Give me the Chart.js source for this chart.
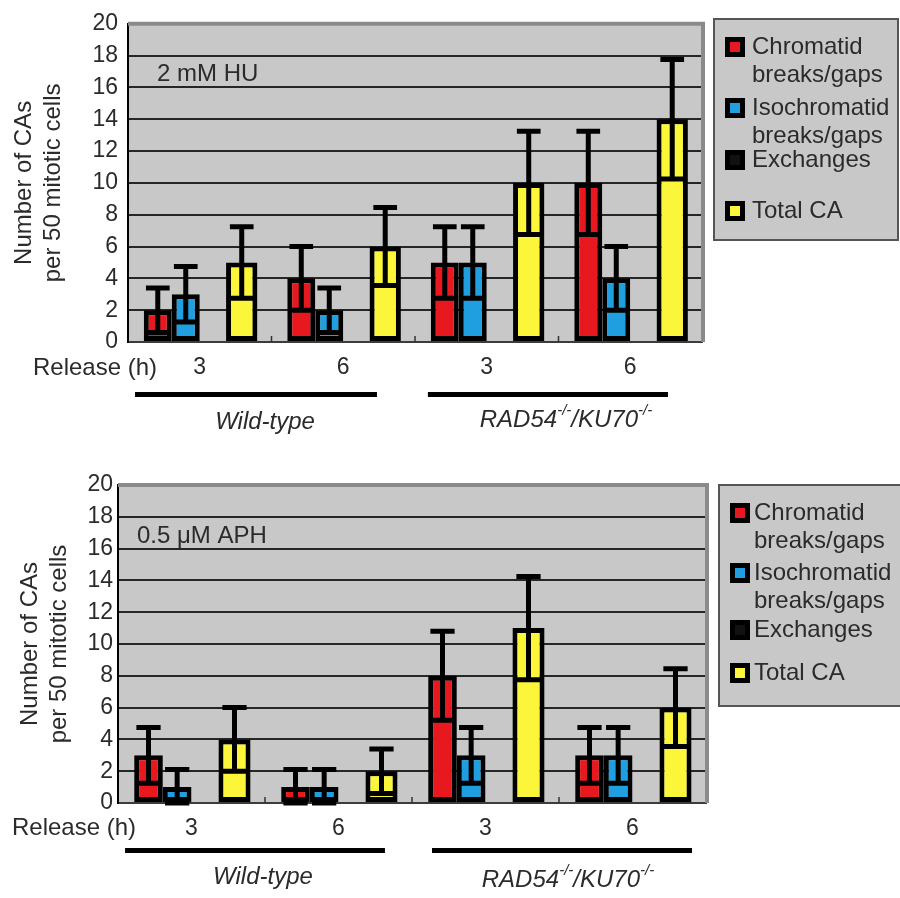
<!DOCTYPE html>
<html>
<head>
<meta charset="utf-8">
<title>Chromosomal aberrations after replication stress</title>
<script src="https://cdn.jsdelivr.net/npm/chart.js@4/dist/chart.umd.min.js"></script>
<style>
  html, body { margin: 0; padding: 0; background: #fff; }
  #page { position: relative; width: 900px; height: 898px; overflow: hidden; }
  .panel { position: absolute; left: 0; width: 900px; }
  canvas { display: block; }
</style>
</head>
<body>
<div id="page">
  <div class="panel" style="top:0;height:450px"><canvas id="huChart" width="900" height="450"></canvas></div>
  <div class="panel" style="top:450px;height:448px"><canvas id="aphChart" width="900" height="448"></canvas></div>
</div>
<script>
// ---- categories and labels ----
const releaseHours = ['3', '6', '3', '6'];
const seriesNames = ['Chromatid breaks/gaps', 'Isochromatid breaks/gaps', 'Exchanges', 'Total CA'];
const legendLines = [['Chromatid', 'breaks/gaps'], ['Isochromatid', 'breaks/gaps'], ['Exchanges'], ['Total CA']];
const countTicks = [0, 2, 4, 6, 8, 10, 12, 14, 16, 18, 20];
const yTitleLines = ['Number of CAs', 'per 50 mitotic cells'];
const releaseLabel = 'Release (h)';
// genotype labels: [text, isSuperscript]
const wildTypeLabel = [['Wild-type', false]];
const mutantLabel = [['RAD54', false], ['-/-', true], ['/KU70', false], ['-/-', true]];

// ---- 2 mM HU ----
const huChromatid = [2, 4, 5, 10];
const huChromatidErr = [1.4, 2.0, 2.25, 3.25];
const huIsochromatid = [3, 2, 5, 4];
const huIsochromatidErr = [1.75, 1.4, 2.25, 2.0];
const huExchanges = [0, 0, 0, 0];
const huTotal = [5, 6, 10, 14];
const huTotalErr = [2.25, 2.45, 3.25, 3.75];

// ---- 0.5 µM APH ----
const aphChromatid = [3, 1, 8, 3];
const aphChromatidErr = [1.75, 1.1, 2.8, 1.75];
const aphIsochromatid = [1, 1, 3, 3];
const aphIsochromatidErr = [1.1, 1.1, 1.75, 1.75];
const aphExchanges = [0, 0, 0, 0];
const aphTotal = [4, 2, 11, 6];
const aphTotalErr = [2.0, 1.4, 3.25, 2.45];

const seriesColors = ['#e8191e', '#1f9fe0', '#111111', '#fbf63a'];
const FONT = '"Liberation Sans", Arial, Helvetica, sans-serif';
const TEXT = '#2b2b2b';

// ---- drawing helpers ----
function catPixel(xs, u) {
  const p0 = xs.getPixelForValue(0);
  const p1 = xs.getPixelForValue(1);
  return p0 + u * (p1 - p0);
}

function drawRichText(ctx, parts, cx, cy) {
  const main = 'italic 24px ' + FONT;
  const sup = 'italic 15px ' + FONT;
  let total = 0;
  const widths = parts.map(([t, s]) => { ctx.font = s ? sup : main; const w = ctx.measureText(t).width; total += w; return w; });
  let x = cx - total / 2;
  ctx.textAlign = 'left';
  ctx.textBaseline = 'middle';
  ctx.fillStyle = TEXT;
  parts.forEach(([t, s], i) => {
    ctx.font = s ? sup : main;
    ctx.fillText(t, x, s ? cy - 9 : cy);
    x += widths[i];
  });
}

// plot background, frame, inner ticks, error bars, annotations and legend
const panelDecor = {
  id: 'panelDecor',
  beforeDraw(chart) {
    const { ctx, chartArea: a } = chart;
    ctx.save();
    ctx.fillStyle = '#c8c8c8';
    ctx.fillRect(a.left, a.top, a.right - a.left, a.bottom - a.top);
    ctx.restore();
  },
  beforeDatasetsDraw(chart) {
    const { ctx, chartArea: a } = chart;
    const xs = chart.scales.x;
    ctx.save();
    // grey frame on top and right
    ctx.strokeStyle = '#8a8a8a';
    ctx.lineWidth = 4;
    ctx.beginPath();
    ctx.moveTo(a.left, a.top);
    ctx.lineTo(a.right + 1, a.top);
    ctx.lineTo(a.right + 1, a.bottom);
    ctx.stroke();
    // short inner ticks between categories
    ctx.strokeStyle = '#333';
    ctx.lineWidth = 1.5;
    for (let i = 0; i < releaseHours.length - 1; i++) {
      const x = catPixel(xs, i + 0.5);
      ctx.beginPath();
      ctx.moveTo(x, a.bottom);
      ctx.lineTo(x, a.bottom - 6);
      ctx.stroke();
    }
    ctx.restore();
  },
  afterDatasetsDraw(chart) {
    const { ctx } = chart;
    const ys = chart.scales.y;
    const xs = chart.scales.x;
    const capW = 0.165 * (catPixel(xs, 1) - catPixel(xs, 0));
    ctx.save();
    ctx.strokeStyle = '#000';
    ctx.lineWidth = 5;
    ctx.lineCap = 'butt';
    chart.data.datasets.forEach((ds, di) => {
      if (!ds.errors) return;
      const meta = chart.getDatasetMeta(di);
      meta.data.forEach((bar, j) => {
        const v = ds.data[j], e = ds.errors[j];
        if (!e) return;
        const yHi = ys.getPixelForValue(v + e);
        const yLo = ys.getPixelForValue(Math.max(0, v - e));
        ctx.beginPath();
        ctx.moveTo(bar.x, yLo);
        ctx.lineTo(bar.x, yHi);
        ctx.moveTo(bar.x - capW / 2, yHi);
        ctx.lineTo(bar.x + capW / 2, yHi);
        ctx.moveTo(bar.x - capW / 2, yLo);
        ctx.lineTo(bar.x + capW / 2, yLo);
        ctx.stroke();
      });
    });
    ctx.restore();
  },
  afterDraw(chart) {
    const { ctx, chartArea: a } = chart;
    const xs = chart.scales.x;
    const ys = chart.scales.y;
    const o = chart.options.plugins.panelDecor;
    ctx.save();
    // treatment note inside the plot
    ctx.font = '24px ' + FONT;
    ctx.fillStyle = TEXT;
    ctx.textAlign = 'left';
    ctx.textBaseline = 'middle';
    ctx.fillText(o.treatment, a.left + o.treatmentDx, ys.getPixelForValue(16.8));
    // release-time caption on the tick row
    ctx.fillText(releaseLabel, o.releaseX, a.bottom + o.tickRowDy);
    // genotype underlines and names
    o.groups.forEach(g => {
      ctx.fillStyle = '#000';
      const x0 = catPixel(xs, g.from), x1 = catPixel(xs, g.to);
      ctx.fillRect(x0, a.bottom + o.lineDy - 2, x1 - x0, 5);
      drawRichText(ctx, g.parts, catPixel(xs, g.labelAt), a.bottom + g.labelDy);
    });
    // legend
    const L = o.legend;
    ctx.fillStyle = '#c8c8c8';
    ctx.fillRect(L.x, L.y, L.w, L.h);
    ctx.strokeStyle = '#555';
    ctx.lineWidth = 2;
    ctx.strokeRect(L.x, L.y, L.w, L.h);
    chart.data.datasets.forEach((ds, i) => {
      const cy = L.y + L.rows[i];
      ctx.fillStyle = '#000';
      ctx.fillRect(L.x + 11, cy - 10, 20, 20);
      ctx.fillStyle = ds.backgroundColor;
      ctx.fillRect(L.x + 16, cy - 5, 10, 10);
      ctx.fillStyle = TEXT;
      ctx.font = '24px ' + FONT;
      ctx.textAlign = 'left';
      ctx.textBaseline = 'middle';
      legendLines[i].forEach((line, k) => ctx.fillText(line, L.x + L.textDx, cy + k * 28));
    });
    ctx.restore();
  }
};

function buildChart(canvasId, series, spec) {
  const datasets = series.map((s, i) => ({
    label: seriesNames[i],
    data: s[0],
    errors: s[1],
    backgroundColor: seriesColors[i],
    borderColor: '#000',
    borderWidth: 5,
    borderSkipped: false,
    categoryPercentage: 0.78,
    barPercentage: i === 3 ? 1.12 : 1.0
  }));
  return new Chart(document.getElementById(canvasId), {
    type: 'bar',
    data: { labels: releaseHours, datasets },
    plugins: [panelDecor],
    options: {
      responsive: false,
      animation: false,
      devicePixelRatio: 1,
      layout: { padding: spec.padding },
      plugins: {
        legend: { display: false },
        tooltip: { enabled: false },
        panelDecor: spec.decor
      },
      scales: {
        x: {
          grid: { display: false, drawTicks: false },
          border: { display: true, color: '#3c3c3c', width: 2 },
          ticks: { font: { family: FONT, size: 23 }, color: TEXT, padding: spec.xTickPad },
          afterFit(s) { s.height = spec.xHeight; }
        },
        y: {
          min: 0,
          max: 20,
          afterBuildTicks(s) { s.ticks = countTicks.map(v => ({ value: v })); },
          ticks: { font: { family: FONT, size: 23 }, color: TEXT, padding: spec.yTickPad },
          grid: {
            drawTicks: false,
            lineWidth: 2,
            color: c => (c.tick && (c.tick.value === 0 || c.tick.value === 20)) ? 'rgba(0,0,0,0)' : '#262626'
          },
          border: { display: true, color: '#000', width: 2 },
          title: {
            display: true,
            text: yTitleLines,
            font: { family: FONT, size: 24 },
            color: TEXT,
            padding: { top: spec.titlePad, bottom: 0 }
          },
          afterFit(s) { s.width = spec.yWidth; }
        }
      }
    }
  });
}

buildChart('huChart',
  [[huChromatid, huChromatidErr], [huIsochromatid, huIsochromatidErr], [huExchanges, null], [huTotal, huTotalErr]],
  {
    padding: { top: 20, right: 198, bottom: 0, left: 0 },
    xHeight: 108, yWidth: 128, yTickPad: 10, xTickPad: 12, titlePad: 10,
    decor: {
      treatment: '2 mM HU', treatmentDx: 29,
      releaseX: 33, tickRowDy: 26, lineDy: 52,
      groups: [
        { from: -0.451, to: 1.235, labelAt: 0.455, labelDy: 80, parts: wildTypeLabel },
        { from: 1.59, to: 3.263, labelAt: 2.552, labelDy: 78, parts: mutantLabel }
      ],
      legend: { x: 714, y: 19, w: 184, h: 221, rows: [28, 89, 141, 192], textDx: 38 }
    }
  });

buildChart('aphChart',
  [[aphChromatid, aphChromatidErr], [aphIsochromatid, aphIsochromatidErr], [aphExchanges, null], [aphTotal, aphTotalErr]],
  {
    padding: { top: 35, right: 194, bottom: 0, left: 0 },
    xHeight: 95, yWidth: 118, yTickPad: 5, xTickPad: 12, titlePad: 16,
    decor: {
      treatment: '0.5 \u03bcM APH', treatmentDx: 19,
      releaseX: 12, tickRowDy: 25, lineDy: 47,
      groups: [
        { from: -0.452, to: 1.316, labelAt: 0.486, labelDy: 74, parts: wildTypeLabel },
        { from: 1.636, to: 3.405, labelAt: 2.561, labelDy: 77, parts: mutantLabel }
      ],
      legend: { x: 719, y: 35, w: 190, h: 221, rows: [28, 88, 145, 188], textDx: 35 }
    }
  });
</script>
</body>
</html>
